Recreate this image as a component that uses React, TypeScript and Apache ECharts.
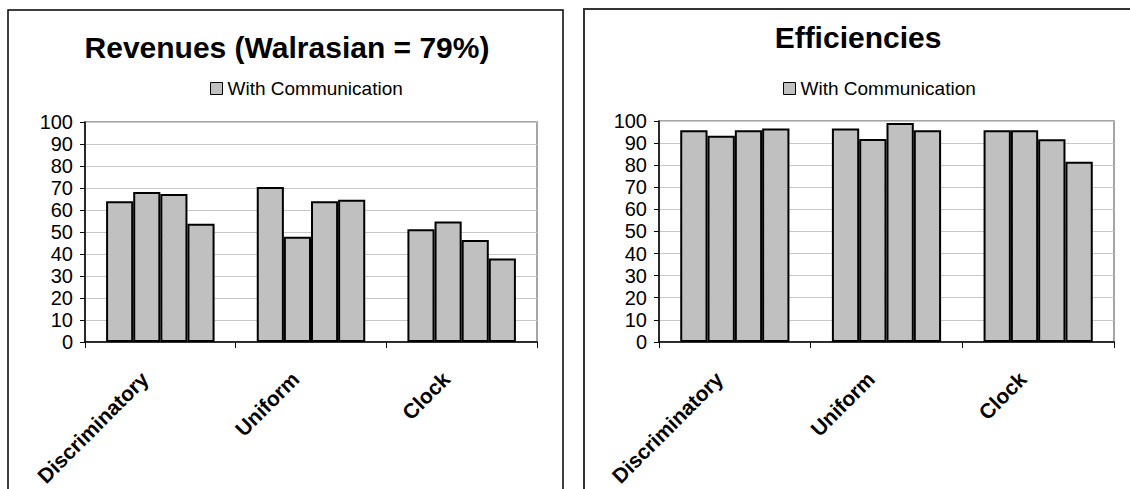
import React, { useEffect, useRef } from "react";
import * as echarts from "echarts";

const categories = ["Discriminatory", "Uniform", "Clock"];
const seriesName = "With Communication";
const revenueTitle = "Revenues (Walrasian = 79%)";
const efficiencyTitle = "Efficiencies";

const revenueBar1 = [64.0, 70.5, 51.2];
const revenueBar2 = [68.2, 47.8, 54.8];
const revenueBar3 = [67.3, 64.0, 46.4];
const revenueBar4 = [53.7, 64.7, 37.9];

const efficiencyBar1 = [95.8, 96.6, 95.8];
const efficiencyBar2 = [93.3, 91.8, 95.8];
const efficiencyBar3 = [95.8, 99.1, 91.7];
const efficiencyBar4 = [96.6, 95.8, 81.6];

const yMin = 0;
const yMax = 100;
const yInterval = 10;

const FONT = "'Liberation Sans', Arial, sans-serif";

export default function App() {
  const ref = useRef<HTMLDivElement>(null);

  useEffect(() => {
    if (!ref.current) return;
    const chart = echarts.init(ref.current, null, { renderer: "svg" });

    const makeX = (gridIndex: number) => ({
      type: "category",
      gridIndex,
      data: categories,
      axisLine: { show: true, lineStyle: { color: "#000", width: 1.5 } },
      axisTick: { show: true, length: 6, lineStyle: { color: "#000", width: 1 } },
      axisLabel: {
        rotate: 45,
        interval: 0,
        margin: 18,
        padding: [0, 22, 0, 0],
        fontFamily: FONT,
        fontWeight: "bold",
        fontSize: 21,
        color: "#000",
      },
      splitLine: { show: false },
    });

    const makeY = (gridIndex: number) => ({
      type: "value",
      gridIndex,
      min: yMin,
      max: yMax,
      interval: yInterval,
      axisLine: { show: true, lineStyle: { color: "#000", width: 1.5 } },
      axisTick: { show: true, length: 5, lineStyle: { color: "#000", width: 1 } },
      axisLabel: {
        margin: 12,
        fontFamily: FONT,
        fontSize: 20,
        color: "#000",
      },
      splitLine: { show: true, lineStyle: { color: "#c8c8c8", width: 1 } },
    });

    const barStyle = {
      color: "#c0c0c0",
      borderColor: "#000",
      borderWidth: 2,
    };

    const makeSeries = (data: number[], idx: number) => ({
      type: "bar",
      name: seriesName,
      xAxisIndex: idx,
      yAxisIndex: idx,
      data,
      barGap: "0%",
      barCategoryGap: "28%",
      itemStyle: barStyle,
      emphasis: { disabled: true },
    });

    const legendCommon = {
      data: [seriesName],
      top: 74,
      icon: "rect",
      itemWidth: 12,
      itemHeight: 12,
      itemStyle: { color: "#c0c0c0", borderColor: "#000", borderWidth: 1 },
      textStyle: { fontFamily: FONT, fontSize: 19, color: "#000" },
      selectedMode: false,
    };

    chart.setOption({
      animation: false,
      backgroundColor: "#fff",
      grid: [
        {
          left: 85,
          right: 1130 - 537,
          top: 122,
          bottom: 489 - 343,
          show: true,
          borderColor: "#888",
          borderWidth: 1.5,
          backgroundColor: "transparent",
        },
        {
          left: 659,
          right: 1130 - 1114,
          top: 121,
          bottom: 489 - 343,
          show: true,
          borderColor: "#888",
          borderWidth: 1.5,
          backgroundColor: "transparent",
        },
      ],
      xAxis: [makeX(0), makeX(1)],
      yAxis: [makeY(0), makeY(1)],
      legend: [
        { ...legendCommon, left: 205 },
        { ...legendCommon, left: 778 },
      ],
      series: [
        makeSeries(revenueBar1, 0),
        makeSeries(revenueBar2, 0),
        makeSeries(revenueBar3, 0),
        makeSeries(revenueBar4, 0),
        makeSeries(efficiencyBar1, 1),
        makeSeries(efficiencyBar2, 1),
        makeSeries(efficiencyBar3, 1),
        makeSeries(efficiencyBar4, 1),
      ],
      graphic: [
        {
          type: "rect",
          silent: true,
          shape: { x: 8, y: 10, width: 555, height: 500 },
          style: { fill: "none", stroke: "#000", lineWidth: 1.5 },
        },
        {
          type: "rect",
          silent: true,
          shape: { x: 584, y: 9, width: 560, height: 500 },
          style: { fill: "none", stroke: "#333", lineWidth: 2 },
        },
        {
          type: "text",
          silent: true,
          style: {
            x: 287,
            y: 47,
            text: revenueTitle,
            textAlign: "center",
            textVerticalAlign: "middle",
            fontFamily: FONT,
            fontWeight: "bold",
            fontSize: 30,
            fill: "#000",
          },
        },
        {
          type: "text",
          silent: true,
          style: {
            x: 858,
            y: 37,
            text: efficiencyTitle,
            textAlign: "center",
            textVerticalAlign: "middle",
            fontFamily: FONT,
            fontWeight: "bold",
            fontSize: 30,
            fill: "#000",
          },
        },
      ],
    });

    return () => {
      chart.dispose();
    };
  }, []);

  return (
    <div
      ref={ref}
      style={{
        position: "fixed",
        left: 0,
        top: 0,
        width: 1130,
        height: 489,
        background: "#fff",
      }}
    />
  );
}
